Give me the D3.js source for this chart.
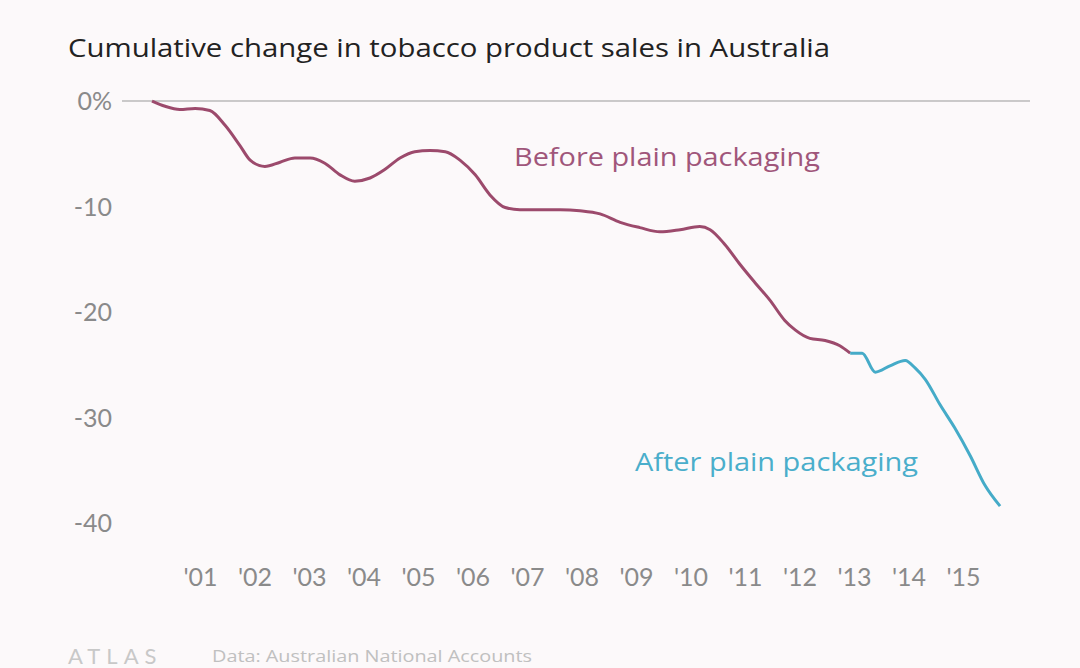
<!DOCTYPE html>
<html><head><meta charset="utf-8">
<script src="https://cdn.jsdelivr.net/npm/d3@7"></script>
<style>body{margin:0;background:#fcf9fa}svg{display:block}</style>
</head><body><svg width="1080" height="668"></svg>
<script>
const beforeYears=[2000.12,2000.36,2000.63,2000.91,2001.18,2001.46,2001.73,2001.92,2002.19,2002.47,2002.74,2003.02,2003.29,2003.57,2003.84,2004.12,2004.39,2004.67,2004.94,2005.22,2005.50,2005.77,2006.05,2006.32,2006.60,2006.87,2007.24,2007.61,2007.97,2008.34,2008.71,2009.07,2009.44,2009.81,2010.17,2010.36,2010.63,2010.91,2011.18,2011.46,2011.73,2011.92,2012.19,2012.47,2012.74,2012.93];
const beforeValues=[0,-0.5,-0.8,-0.7,-0.9,-2.3,-4.2,-5.6,-6.2,-5.8,-5.4,-5.4,-5.9,-7.0,-7.6,-7.3,-6.5,-5.4,-4.8,-4.7,-4.8,-5.6,-7.0,-8.9,-10.1,-10.3,-10.3,-10.3,-10.4,-10.7,-11.5,-12.0,-12.4,-12.2,-11.9,-12.2,-13.6,-15.5,-17.2,-18.9,-20.8,-21.7,-22.5,-22.7,-23.2,-23.9];
const afterYears=[2012.93,2013.15,2013.39,2013.66,2013.94,2014.12,2014.31,2014.58,2014.85,2015.13,2015.40,2015.68];
const afterValues=[-23.9,-23.9,-25.7,-25.1,-24.6,-25.3,-26.4,-28.8,-31.0,-33.6,-36.4,-38.4];
const yTicks=[0,-10,-20,-30,-40];
const yTickLabels=["0%","-10","-20","-30","-40"];
const xTicks=[2001,2002,2003,2004,2005,2006,2007,2008,2009,2010,2011,2012,2013,2014,2015];
const xTickLabels=["'01","'02","'03","'04","'05","'06","'07","'08","'09","'10","'11","'12","'13","'14","'15"];

const svg=d3.select("svg");
const font="Lato, 'Open Sans', sans-serif";
const font2="'Open Sans', sans-serif";
const x=d3.scaleLinear().domain([2001,2015]).range([200,963]);
const y=d3.scaleLinear().domain([0,-40]).range([101,523]);

svg.append("text").attr("x",68).attr("y",57).attr("font-family",font2).attr("font-size",26).attr("textLength",762).attr("lengthAdjust","spacingAndGlyphs").attr("fill","#222").text("Cumulative change in tobacco product sales in Australia");

svg.append("line").attr("x1",122).attr("x2",1030).attr("y1",y(0)).attr("y2",y(0)).attr("stroke","#999").attr("stroke-width",1);

const ya=svg.append("g").attr("transform","translate(115,0)").call(d3.axisLeft(y).tickValues(yTicks).tickFormat((d,i)=>yTickLabels[i]).tickSize(0));
ya.select(".domain").remove();
ya.selectAll("text").attr("font-family",font).attr("font-size",25).attr("fill","#8a8a8a").attr("dy","0.35em");

const xa=svg.append("g").attr("transform","translate(0,565)").call(d3.axisBottom(x).tickValues(xTicks).tickFormat((d,i)=>xTickLabels[i]).tickSize(0));
xa.select(".domain").remove();
xa.selectAll("text").attr("font-family",font).attr("font-size",25).attr("fill","#8a8a8a");

const line=d3.line().x(d=>x(d[0])).y(d=>y(d[1])).curve(d3.curveMonotoneX);
svg.append("path").datum(beforeYears.map((t,i)=>[t,beforeValues[i]])).attr("d",line).attr("fill","none").attr("stroke","#9c4a6c").attr("stroke-width",3);
svg.append("path").datum(afterYears.map((t,i)=>[t,afterValues[i]])).attr("d",line).attr("fill","none").attr("stroke","#45abc8").attr("stroke-width",3);

svg.append("text").attr("x",514).attr("y",166).attr("font-family",font2).attr("font-size",26).attr("textLength",306).attr("lengthAdjust","spacingAndGlyphs").attr("fill","#a0567a").text("Before plain packaging");
svg.append("text").attr("x",635).attr("y",471).attr("font-family",font2).attr("font-size",26).attr("textLength",283).attr("lengthAdjust","spacingAndGlyphs").attr("fill","#4aaecb").text("After plain packaging");

svg.append("text").attr("x",68).attr("y",664).attr("font-family",font).attr("font-size",22).attr("letter-spacing",6).attr("fill","#c8c8c8").text("ATLAS");
svg.append("text").attr("x",212).attr("y",662).attr("font-family",font2).attr("font-size",16).attr("textLength",320).attr("lengthAdjust","spacingAndGlyphs").attr("fill","#c0c0c0").text("Data: Australian National Accounts");
</script></body></html>
